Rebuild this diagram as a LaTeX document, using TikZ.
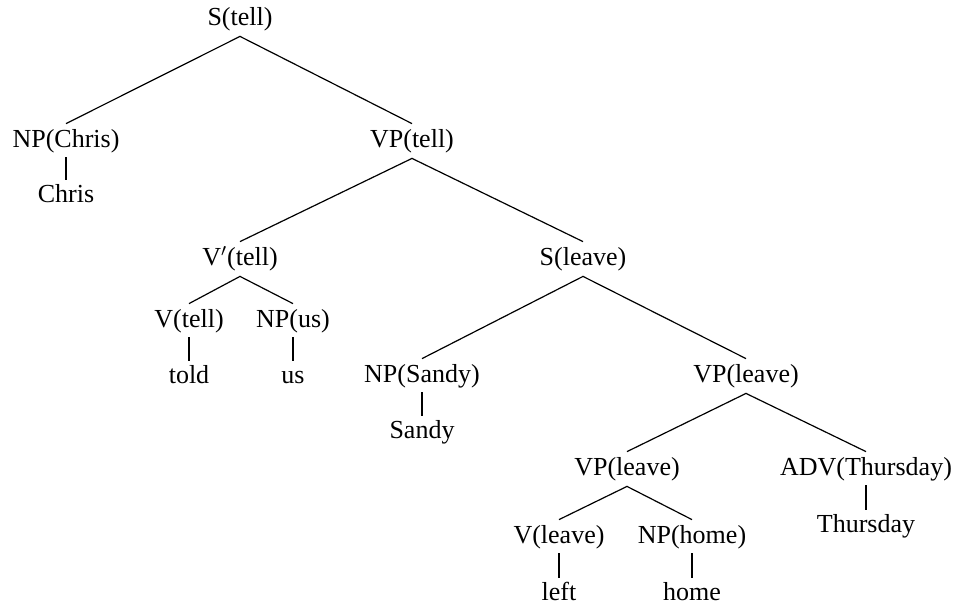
\documentclass[tikz,border=0pt]{standalone}
\usepackage{fontspec}
\setmainfont{Liberation Serif}
\tikzset{
  lbl/.style={anchor=base, inner sep=0pt, text height=11.5pt, text depth=5.5pt, font=\fontsize{13}{15}\selectfont},
  branch/.style={line width=0.6pt},
  unary/.style={line width=1.3pt, shorten <=-0.5pt, shorten >=-0.7pt}
}
\begin{document}
\begin{tikzpicture}[x=0.5pt, y=-0.5pt]
                \useasboundingbox (0,0) rectangle (959,607);
                \node[lbl] (s)      at (240,25)  {S(tell)};
                \node[lbl] (npc)    at (66,147)  {NP(Chris)};
                \node[lbl] (chris)  at (66,202)  {Chris};
                \node[lbl] (vp)     at (412,147) {VP(tell)};
                \node[lbl] (vbar)   at (240,265) {V$'$(tell)};
                \node[lbl] (sl)     at (583,265) {S(leave)};
                \node[lbl] (v)      at (189,327) {V(tell)};
                \node[lbl] (npus)   at (293,327) {NP(us)};
                \node[lbl] (told)   at (189,383) {told};
                \node[lbl] (us)     at (293,383) {us};
                \node[lbl] (nps)    at (422,382) {NP(Sandy)};
                \node[lbl] (sandy)  at (422,438) {Sandy};
                \node[lbl] (vpl)    at (746,382) {VP(leave)};
                \node[lbl] (vpl2)   at (627,475) {VP(leave)};
                \node[lbl] (adv)    at (866,475) {ADV(Thursday)};
                \node[lbl] (thu)    at (866,532) {Thursday};
                \node[lbl] (vl)     at (559,543) {V(leave)};
                \node[lbl] (nph)    at (692,543) {NP(home)};
                \node[lbl] (left)   at (559,600) {left};
                \node[lbl] (home)   at (692,600) {home};

                \draw[branch] (npc.north) -- (s.south) -- (vp.north);
                \draw[branch] (vbar.north) -- (vp.south) -- (sl.north);
                \draw[branch] (v.north) -- (vbar.south) -- (npus.north);
                \draw[branch] (nps.north) -- (sl.south) -- (vpl.north);
                \draw[branch] (vpl2.north) -- (vpl.south) -- (adv.north);
                \draw[branch] (vl.north) -- (vpl2.south) -- (nph.north);

                \draw[unary] (npc.south) -- (chris.north);
                \draw[unary] (v.south) -- (told.north);
                \draw[unary] (npus.south) -- (us.north);
                \draw[unary] (nps.south) -- (sandy.north);
                \draw[unary] (adv.south) -- (thu.north);
                \draw[unary] (vl.south) -- (left.north);
                \draw[unary] (nph.south) -- (home.north);
\end{tikzpicture}
\end{document}
